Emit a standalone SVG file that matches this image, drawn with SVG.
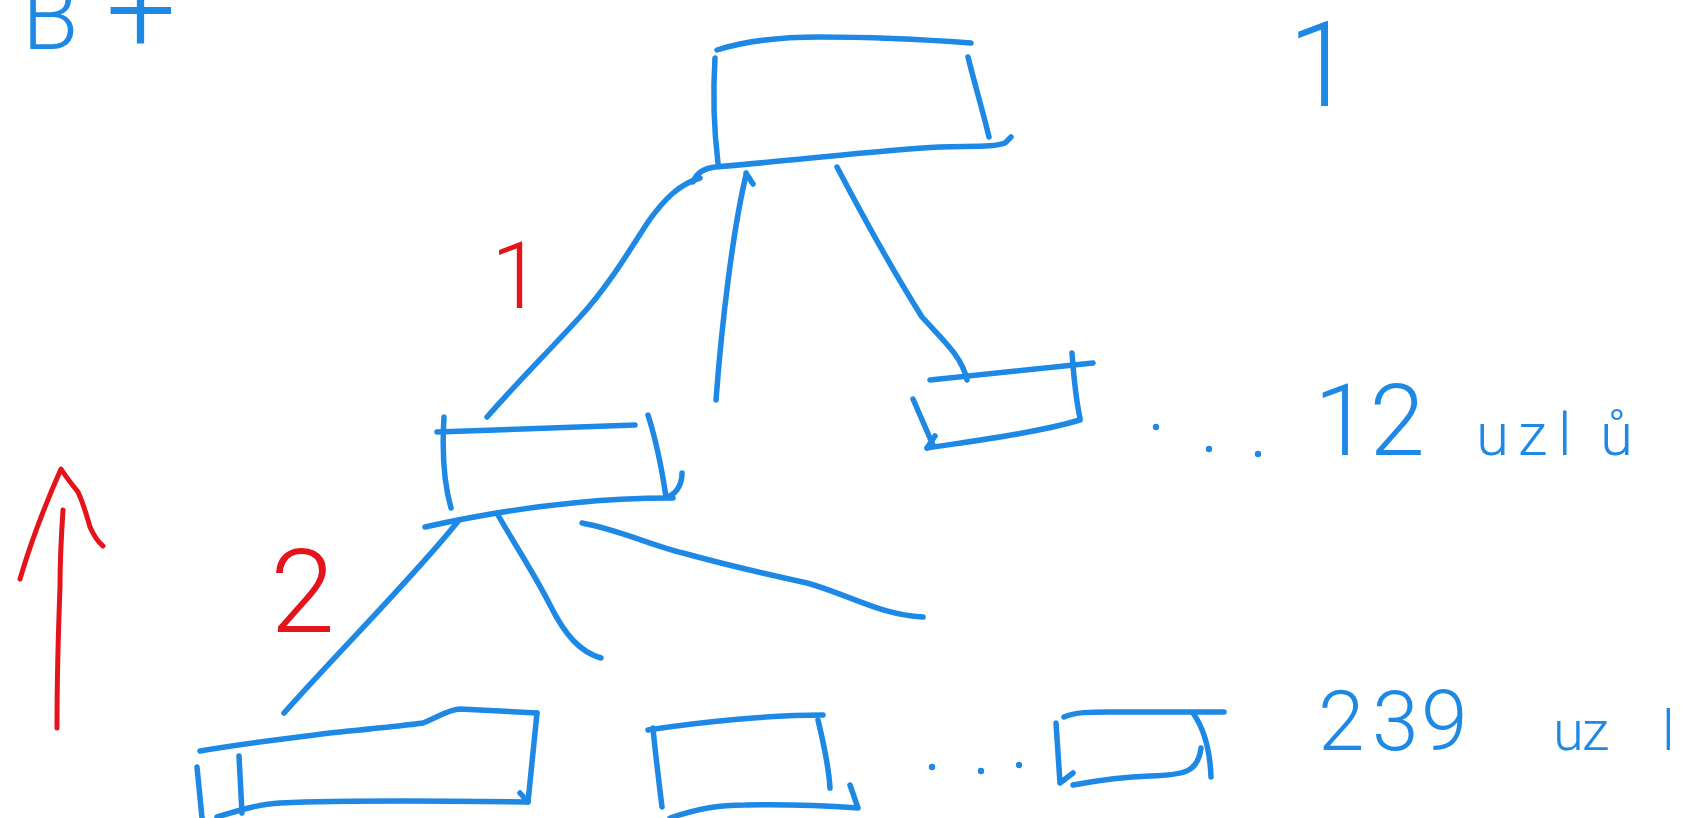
<svg xmlns="http://www.w3.org/2000/svg" width="1707" height="818" viewBox="0 0 1707 818">
<style>
.b{fill:none;stroke:#1e88e5;stroke-width:5.5;stroke-linecap:round;stroke-linejoin:round}
.r{fill:none;stroke:#e3141c;stroke-width:5;stroke-linecap:round;stroke-linejoin:round}
.bt{fill:#1e88e5;font-family:Roboto,"Liberation Sans",Arial,sans-serif;font-weight:300}
.rt{fill:#e3141c;font-family:Roboto,"Liberation Sans",Arial,sans-serif;font-weight:300}
.dot{fill:#1e88e5}
</style>
<rect width="1707" height="818" fill="#ffffff"/>

<g id="node-root">
<path class="b" d="M717,50 C745,41 780,37 820,37 C880,37 930,40 971,43"/>
<path class="b" d="M715,58 C713,90 714,130 718,163"/>
<path class="b" d="M968,57 C975,85 983,112 989,137"/>
<path class="b" d="M693,182 C697,172 705,168 715,167 C800,160 880,150 940,147 C975,146 995,147 1005,143 L1011,137"/>
</g>

<g id="node-mid-left">
<path class="b" d="M437,432 L635,425"/>
<path class="b" d="M444,417 C442,450 443,480 451,508"/>
<path class="b" d="M648,415 C656,440 662,470 666,497 C676,495 682,485 682,473"/>
<path class="b" d="M425,527 C470,517 520,508 573,503 C610,499 650,498 673,498"/>
</g>

<g id="node-mid-right">
<path class="b" d="M930,380 L1093,363"/>
<path class="b" d="M1072,353 C1074,380 1076,400 1080,418"/>
<path class="b" d="M927,448 C980,440 1040,432 1080,420"/>
<path class="b" d="M913,399 L933,445 M927,448 L935,436"/>
</g>

<g id="leaf-1">
<path class="b" d="M200,751 C260,741 300,737 330,733 C380,728 410,725 423,723 C440,716 450,709 460,709 L537,713"/>
<path class="b" d="M537,713 L528,802"/>
<path class="b" d="M217,817 C240,810 260,804 280,803 C350,800 450,801 527,802 M520,793 L528,802"/>
<path class="b" d="M197,767 L202,818"/>
<path class="b" d="M239,756 L242,813"/>
</g>

<g id="leaf-2">
<path class="b" d="M648,730 C700,722 770,715 823,715"/>
<path class="b" d="M653,728 C656,760 660,790 662,807"/>
<path class="b" d="M818,720 C824,745 829,770 830,788"/>
<path class="b" d="M670,818 C700,808 720,805 745,805 C790,804 830,806 858,808 M850,785 L858,808"/>
</g>

<g id="leaf-3">
<path class="b" d="M1064,717 C1075,712 1090,712 1110,712 L1224,712"/>
<path class="b" d="M1056,723 L1060,783 L1073,773"/>
<path class="b" d="M1193,713 C1205,730 1210,750 1211,777"/>
<path class="b" d="M1073,785 C1100,780 1120,777 1150,776 C1185,775 1198,772 1201,748"/>
</g>

<g id="connectors">
<path class="b" d="M700,178 C680,184 665,198 648,222 C625,258 605,290 579,318 C545,355 515,385 487,417"/>
<path class="b" d="M746,175 C733,230 722,320 716,400 M746,173 L753,184"/>
<path class="b" d="M837,167 C870,230 905,290 922,317 C945,342 962,357 967,380"/>
<path class="b" d="M459,520 C420,570 340,650 284,713"/>
<path class="b" d="M498,515 C515,545 535,575 550,605 C565,635 580,652 601,658"/>
<path class="b" d="M582,523 C620,530 650,545 683,553 C730,566 770,575 807,583 C850,595 880,615 923,617"/>
</g>

<g id="ellipses">
<circle class="dot" cx="1156" cy="427" r="3.2"/>
<circle class="dot" cx="1209" cy="449" r="3.2"/>
<circle class="dot" cx="1258" cy="454" r="3.2"/>
<circle class="dot" cx="932" cy="767" r="3.2"/>
<circle class="dot" cx="981" cy="771" r="3.2"/>
<circle class="dot" cx="1019" cy="765" r="3.2"/>
</g>

<g id="labels">
<text class="bt" x="22" y="49" font-size="92">B<tspan x="106" y="52" font-size="124">+</tspan></text>
<text class="bt" x="1288" y="106" font-size="118">1</text>
<text class="bt" x="1314" y="455" font-size="100">12<tspan x="1460 1476 1518 1558 1600" font-size="60"> uzlů</tspan></text>
<text class="bt" x="1318 1372 1421" y="750" font-size="84">239<tspan x="1540 1553 1582 1662" font-size="56"> uzl</tspan></text>
</g>

<g id="annotations">
<path class="r" d="M63,510 C61,540 60,570 60,587 C58,640 57,690 57,728"/>
<path class="r" d="M20,579 C30,545 45,505 61,469 C68,480 75,488 78,492 C84,505 88,520 90,527 C94,536 98,542 103,546"/>
<text class="rt" x="491" y="308" font-size="92">1</text>
<text class="rt" x="270" y="632" font-size="117">2</text>
</g>
</svg>
